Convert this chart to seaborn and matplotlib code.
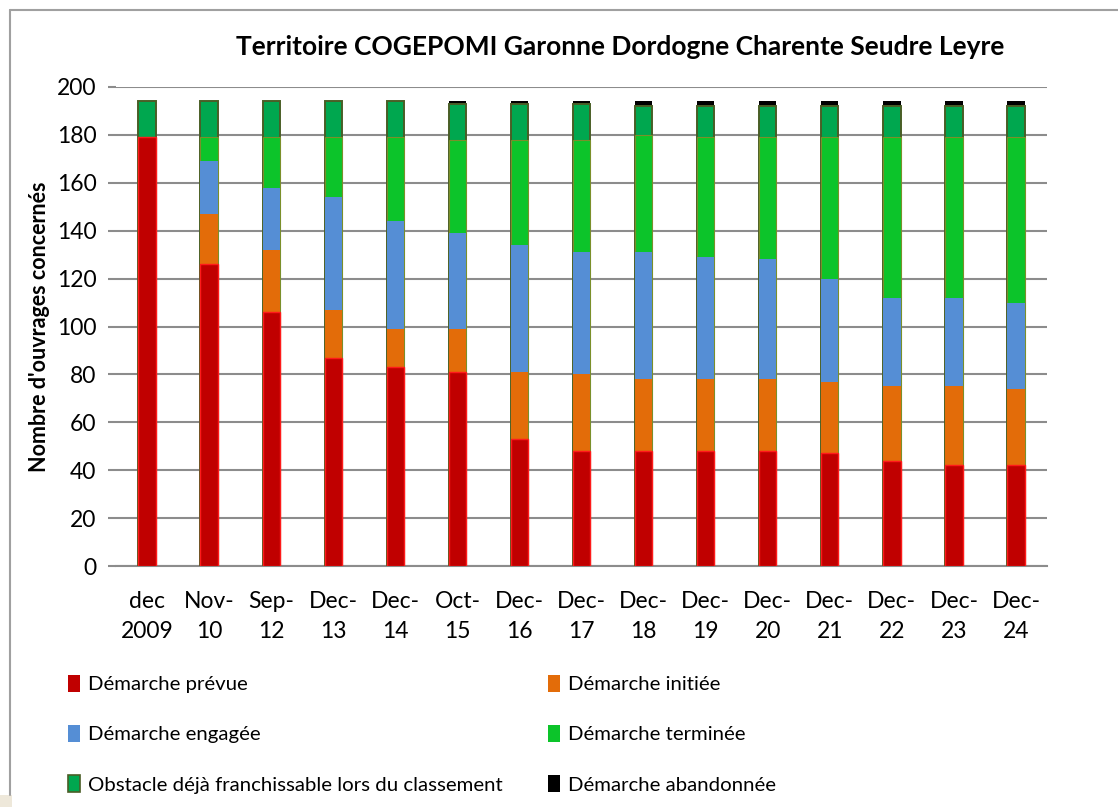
import matplotlib
matplotlib.use("Agg")
import matplotlib.pyplot as plt
from matplotlib.lines import Line2D
from matplotlib.patches import Patch, Rectangle
import numpy as np
import pandas as pd
import seaborn as sns

# Periods (x-axis categories)
periods = ["dec\n2009", "Nov-\n10", "Sep-\n12", "Dec-\n13", "Dec-\n14", "Oct-\n15",
           "Dec-\n16", "Dec-\n17", "Dec-\n18", "Dec-\n19", "Dec-\n20", "Dec-\n21",
           "Dec-\n22", "Dec-\n23", "Dec-\n24"]

# Number of structures per status, stacked bottom to top
prevue = [179, 126, 106, 87, 83, 81, 53, 48, 48, 48, 48, 47, 44, 42, 42]
initiee = [0, 21, 26, 20, 16, 18, 28, 32, 30, 30, 30, 30, 31, 33, 32]
engagee = [0, 22, 26, 47, 45, 40, 53, 51, 53, 51, 50, 43, 37, 37, 36]
terminee = [0, 10, 21, 25, 35, 39, 44, 47, 49, 50, 51, 59, 67, 67, 69]
obstacle = [15, 15, 15, 15, 15, 15, 15, 15, 12, 13, 13, 13, 13, 13, 13]
abandonnee = [0, 0, 0, 0, 0, 1, 1, 1, 2, 2, 2, 2, 2, 2, 2]

series_names = ["Démarche prévue", "Démarche initiée", "Démarche engagée",
                "Démarche terminée", "Obstacle déjà franchissable lors du classement",
                "Démarche abandonnée"]
series_values = [prevue, initiee, engagee, terminee, obstacle, abandonnee]
fill_colors = ["#C00000", "#E36C09", "#558ED5", "#0CC42A", "#00A74F", "#000000"]
edge_colors = ["#FF1A1A", "#E36C09", "#558ED5", "#7A8F2A", "#4A5E26", "#000000"]
edge_widths = [1.0, 0.0, 0.0, 0.8, 1.4, 0.0]

sns.set_theme(style="white")
plt.rcParams["font.family"] = ["Lato", "DejaVu Sans"]
plt.rcParams["text.color"] = "black"
plt.rcParams["axes.labelcolor"] = "black"
plt.rcParams["xtick.color"] = "black"
plt.rcParams["ytick.color"] = "black"

fig = plt.figure(figsize=(11.18, 8.07), dpi=100)
ax = fig.add_axes([0.1038, 0.2986, 0.8327, 0.5936])

# Cumulative tops for each layer; draw the tallest first so lower layers sit on top
cum = np.cumsum(np.array(series_values), axis=0)
frames = []
for name, tops in zip(series_names, cum):
    frames.append(pd.DataFrame({"period": periods, "serie": name, "top": tops}))
data = pd.concat(frames, ignore_index=True)

for i in reversed(range(len(series_names))):
    sub = data[data["serie"] == series_names[i]]
    sns.barplot(data=sub, x="period", y="top", order=periods, color=fill_colors[i],
                saturation=1, width=0.28, edgecolor=edge_colors[i],
                linewidth=edge_widths[i], ax=ax, zorder=3)

ax.set_xlim(-0.5, len(periods) - 0.5)
ax.set_ylim(0, 200)
ax.set_yticks(np.arange(0, 201, 20))
ax.yaxis.grid(True, color="#8C8C8C", linewidth=1.5, zorder=0)
ax.xaxis.grid(False)
for side in ["left", "right", "top"]:
    ax.spines[side].set_visible(False)
ax.spines["bottom"].set_color("#8C8C8C")
ax.spines["bottom"].set_linewidth(1.5)
ax.tick_params(axis="y", left=True, length=6, width=1.5, color="#8C8C8C",
               labelcolor="black", labelsize=16.5, pad=8)
ax.tick_params(axis="x", bottom=False, labelsize=16.5, pad=12)
for lab in ax.get_xticklabels():
    lab.set_linespacing(1.55)
ax.set_xlabel("")
ax.set_ylabel("Nombre d'ouvrages concernés", fontsize=15.5, fontweight="bold",
              labelpad=5)

fig.text(0.5546, 0.942, "Territoire COGEPOMI Garonne Dordogne Charente Seudre Leyre",
         ha="center", va="center", fontsize=19, fontweight="bold")

# Legend: three rows, two columns
handles = [Patch(facecolor=fill_colors[i], edgecolor=edge_colors[i] if i == 4 else fill_colors[i],
                 linewidth=1.2 if i == 4 else 0) for i in range(6)]
order = [0, 2, 4, 1, 3, 5]
fig.legend([handles[i] for i in order], [series_names[i] for i in order],
           loc="upper left", bbox_to_anchor=(0.0535, 0.174), ncol=2, frameon=False,
           fontsize=14.7, handlelength=0.6, handleheight=0.9, handletextpad=0.4,
           labelspacing=1.55, columnspacing=2.2, borderaxespad=0)

# Outer chart frame
fig.add_artist(Line2D([0.009, 0.009], [0.015, 0.988], color="#A0A0A0", linewidth=1.5,
                      transform=fig.transFigure))
fig.add_artist(Line2D([0.009, 1.0], [0.988, 0.988], color="#A0A0A0", linewidth=1.5,
                      transform=fig.transFigure))
fig.add_artist(Rectangle((0, 0), 0.011, 0.015, facecolor="#EEE8DA", edgecolor="none",
                         transform=fig.transFigure))

fig.savefig("out.png", dpi=100)
